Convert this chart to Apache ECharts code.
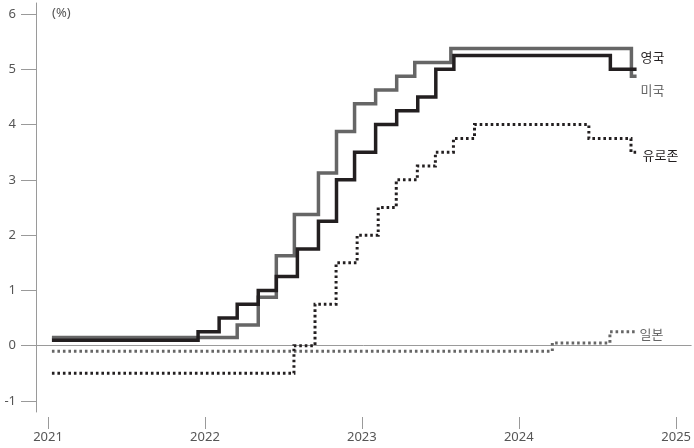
<!DOCTYPE html>
<html><head><meta charset="utf-8">
<script src="https://cdn.jsdelivr.net/npm/echarts@6/dist/echarts.min.js"></script>
<style>html,body{margin:0;padding:0;background:#fff}#c{width:694px;height:448px}</style>
</head><body><div id="c"></div>
<script>
// Policy rates (%), step changes: [date, new rate]
const usDates   = ['2021-01-10','2022-03-17','2022-05-05','2022-06-16','2022-07-28','2022-09-22','2022-11-03','2022-12-15','2023-02-02','2023-03-23','2023-05-04','2023-07-27','2024-09-19','2024-10-01'];
const usRates   = [0.15,0.375,0.875,1.625,2.375,3.125,3.875,4.375,4.625,4.875,5.125,5.375,4.875,4.875];
const ukDates   = ['2021-01-10','2021-12-16','2022-02-03','2022-03-17','2022-05-05','2022-06-16','2022-08-04','2022-09-22','2022-11-03','2022-12-15','2023-02-02','2023-03-23','2023-05-11','2023-06-22','2023-08-03','2024-08-01','2024-10-01'];
const ukRates   = [0.1,0.25,0.5,0.75,1.0,1.25,1.75,2.25,3.0,3.5,4.0,4.25,4.5,5.0,5.25,5.0,5.0];
const ezDates   = ['2021-01-10','2022-07-27','2022-09-14','2022-11-02','2022-12-21','2023-02-08','2023-03-22','2023-05-10','2023-06-21','2023-08-02','2023-09-20','2024-06-12','2024-09-18','2024-10-01'];
const ezRates   = [-0.5,0.0,0.75,1.5,2.0,2.5,3.0,3.25,3.5,3.75,4.0,3.75,3.5,3.5];
const jpDates   = ['2021-01-10','2024-03-19','2024-07-31','2024-10-01'];
const jpRates   = [-0.1,0.05,0.25,0.25];
const yearTicks = ['2021-01-01','2022-01-01','2023-01-01','2024-01-01','2025-01-01'];
const yTicks    = [-1,0,1,2,3,4,5,6];
const names     = {uk:'영국', us:'미국', ez:'유로존', jp:'일본'};

const ts = d => new Date(d + 'T00:00:00Z').getTime();
const pairs = (ds, vs) => ds.map((d, i) => [ts(d), vs[i]]);
const xMin = ts('2020-12-04'), xMax = ts('2025-02-05');
const yearTs = yearTicks.map(ts);
const FONT = "'Noto Sans','Noto Sans CJK KR',sans-serif";
const BLACK = '#231f20', GRAY = '#666666';

function mk(name, data, color, dotted, lbl) {
  return {
    type: 'line', name, data, step: 'end', symbol: 'none', xAxisIndex: 0,
    lineStyle: {color, width: dotted ? 3 : 3.5, type: dotted ? [2.6, 2.9] : 'solid', cap: 'butt', join: 'miter'},
    endLabel: {show: true, formatter: name, color: lbl.color, fontSize: 13, fontFamily: FONT,
      distance: lbl.d, offset: lbl.o},
    emphasis: {disabled: true}, silent: true, animation: false
  };
}

const chart = echarts.init(document.getElementById('c'), null, {renderer: 'canvas'});
chart.setOption({
  animation: false,
  grid: {left: 36, right: 2, top: 3, bottom: 36, containLabel: false},
  xAxis: [{
    type: 'value', min: xMin, max: xMax, position: 'bottom',
    axisLine: {show: true, lineStyle: {color: '#9a9a9a', width: 1}},
    axisTick: {show: false}, axisLabel: {show: false}, splitLine: {show: false}
  }, {
    type: 'value', min: xMin, max: xMax, position: 'bottom', offset: 5,
    axisLine: {show: false},
    axisTick: {show: true, length: 12, customValues: yearTs, lineStyle: {color: '#9a9a9a'}},
    axisLabel: {show: true, customValues: yearTs, margin: 14, color: '#555', fontSize: 13, fontFamily: FONT,
      formatter: v => String(new Date(v).getUTCFullYear())},
    splitLine: {show: false}
  }],
  yAxis: {
    type: 'value', min: -1.2, max: 6.2,
    axisLine: {show: true, lineStyle: {color: '#9a9a9a', width: 1}},
    axisTick: {show: true, length: 15, customValues: yTicks, lineStyle: {color: '#9a9a9a'}},
    axisLabel: {show: true, customValues: yTicks, margin: 20, color: '#555', fontSize: 13, fontFamily: FONT},
    splitLine: {show: false}
  },
  graphic: [{type: 'text', left: 52, top: 7, style: {text: '(%)', fill: '#555', fontSize: 13, fontFamily: FONT}}],
  series: [
    mk(names.jp, pairs(jpDates, jpRates), GRAY, true, {color: GRAY, d: 3, o: [0, 3]}),
    mk(names.ez, pairs(ezDates, ezRates), BLACK, true, {color: BLACK, d: 6, o: [0, 4]}),
    mk(names.us, pairs(usDates, usRates), GRAY, false, {color: GRAY, d: 4, o: [0, 15]}),
    mk(names.uk, pairs(ukDates, ukRates), BLACK, false, {color: BLACK, d: 4, o: [0, -11]})
  ]
});
</script></body></html>
